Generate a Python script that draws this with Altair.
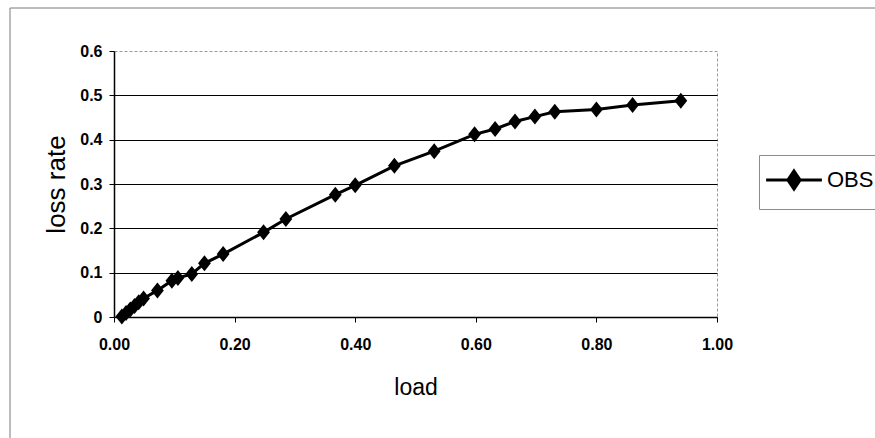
import altair as alt
import pandas as pd

# Observed loss rate against offered load
load = [0.013, 0.020, 0.027, 0.034, 0.041, 0.049, 0.072, 0.096, 0.106,
        0.129, 0.150, 0.181, 0.248, 0.285, 0.367, 0.400, 0.465, 0.531, 0.598,
        0.632, 0.665, 0.698, 0.731, 0.800, 0.860, 0.940]
loss_rate = [0.001, 0.009, 0.017, 0.025, 0.033, 0.042, 0.060, 0.082, 0.088,
             0.097, 0.121, 0.142, 0.191, 0.221, 0.276, 0.297, 0.341, 0.374, 0.412,
             0.424, 0.441, 0.452, 0.463, 0.468, 0.478, 0.488]
series = ["OBS"] * len(load)

x_ticks = [0.0, 0.2, 0.4, 0.6, 0.8, 1.0]
y_ticks = [0.0, 0.1, 0.2, 0.3, 0.4, 0.5, 0.6]

df = pd.DataFrame({"load": load, "loss_rate": loss_rate, "series": series})

FONT = "Liberation Sans, Arial, sans-serif"
# tall diamond marker and a line-through-diamond legend glyph
DIAMOND = "M0,-1L0.8,0L0,1L-0.8,0Z"
LEGEND_GLYPH = "M-3.1,0L3.1,0M0,-1L0.68,0L0,1L-0.68,0Z"

x_enc = alt.X(
    "load:Q",
    scale=alt.Scale(domain=[0, 1], nice=False),
    axis=alt.Axis(
        values=x_ticks, format=".2f", title="load", grid=False,
        labelFlush=False,
        domainColor="black", domainWidth=1.5, tickColor="black", tickSize=5,
        labelPadding=14, labelFont=FONT, labelFontSize=16, labelFontWeight="bold",
        labelColor="black",
        titleFont=FONT, titleFontSize=23, titleFontWeight="normal",
        titleColor="black", titlePadding=24,
    ),
)
y_enc = alt.Y(
    "loss_rate:Q",
    scale=alt.Scale(domain=[0, 0.6], nice=False),
    axis=alt.Axis(
        values=y_ticks, format="~g", title="loss rate", grid=True,
        gridColor="black", gridWidth=1,
        gridOpacity={"condition": {"test": "datum.value >= 0.6", "value": 0}, "value": 1},
        domainColor="black", domainWidth=1.5, tickColor="black", tickSize=5,
        labelPadding=7, labelFont=FONT, labelFontSize=16, labelFontWeight="bold",
        labelColor="black",
        titleFont=FONT, titleFontSize=26, titleFontWeight="normal",
        titleColor="black", titlePadding=10,
    ),
)

base = alt.Chart(df)

line = base.mark_line(color="black", strokeWidth=3).encode(x=x_enc, y=y_enc)

points = base.mark_point(shape=DIAMOND, filled=True, size=256, opacity=1).encode(
    x="load:Q",
    y="loss_rate:Q",
    color=alt.Color(
        "series:N",
        scale=alt.Scale(domain=["OBS"], range=["black"]),
        legend=alt.Legend(
            title=None, orient="none", legendX=645, legendY=104,
            symbolType=LEGEND_GLYPH, symbolSize=324, symbolStrokeWidth=3,
            symbolStrokeColor="black", symbolFillColor="black",
            symbolOffset=10, labelOffset=22, padding=14,
            strokeColor="#8c8c8c", fillColor="white",
            labelFont=FONT, labelFontSize=22, labelColor="black",
        ),
    ),
)

# outer chart frame
frame = alt.Chart(pd.DataFrame({"f": [0]})).mark_rect(
    fill="white", fillOpacity=0, stroke="#7a7a7a", strokeWidth=1
).encode(
    x=alt.value(-104), x2=alt.value(820),
    y=alt.value(-43), y2=alt.value(440),
)

chart = alt.layer(frame, line, points).properties(
    width=603,
    height=266,
    autosize=alt.AutoSizeParams(type="none"),
    padding={"left": 114, "top": 51, "right": 158, "bottom": 121},
    background="white",
).configure_view(
    stroke="#9a9a9a", strokeDash=[3, 2], strokeWidth=1
)

chart.save("out.html", embed_options={"renderer": "svg", "actions": False})
